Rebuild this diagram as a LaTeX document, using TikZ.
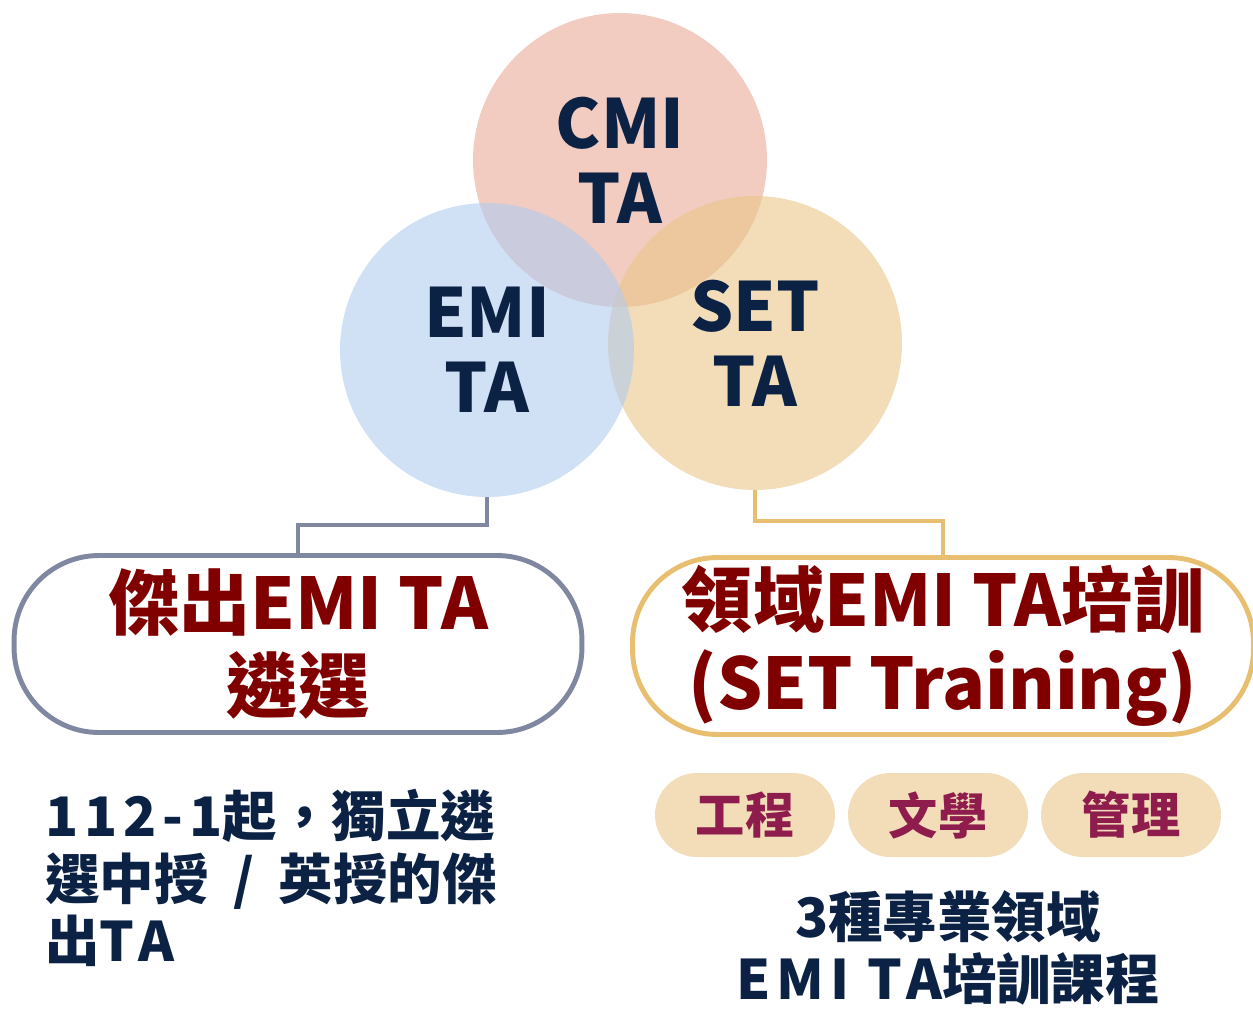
\documentclass[tikz,border=0pt]{standalone}
\usepackage{fontspec}
\setmainfont{Noto Sans CJK TC}
\usepackage{tikz}

\definecolor{navy}{HTML}{0C2244}
\definecolor{darkred}{HTML}{800000}
\definecolor{plum}{HTML}{8E1C4C}
\definecolor{pinkc}{HTML}{E9A898}
\definecolor{bluec}{HTML}{B1CBEE}
\definecolor{sandc}{HTML}{E9C689}
\definecolor{slate}{HTML}{7F88A0}
\definecolor{gold}{HTML}{E8BE70}
\definecolor{tagfill}{HTML}{F2DDB8}

\newcommand\spaced[1]{{\addfontfeature{LetterSpace=11}#1}}

\tikzset{
    venn/.style={circle, minimum size=5.88cm, inner sep=0pt, fill opacity=0.6},
    vlabel/.style={align=center, text=navy, inner sep=0pt,
        font=\fontsize{38.6}{42.5}\selectfont\bfseries},
    pill/.style={rounded corners=1.7cm, minimum height=3.54cm, line width=2.8pt,
        inner sep=0pt, align=center, text=darkred,
        font=\fontsize{40.5}{47.5}\selectfont\bfseries},
    conn/.style={line width=2.3pt},
    tag/.style={fill=tagfill, rounded corners=0.84cm, minimum width=3.6cm,
        minimum height=1.68cm, inner sep=0pt, text=plum,
        font=\fontsize{28}{32}\selectfont\bfseries},
    note/.style={text=navy, inner sep=0pt,
        font=\fontsize{31}{35.5}\selectfont\bfseries}
}

\begin{document}
\begin{tikzpicture}[x=0.02cm,y=-0.02cm]
    \useasboundingbox (0,0) rectangle (1253,1010);
    % circles
    \node[venn, fill=pinkc] (cmi) at (620,160) {};
    \node[venn, fill=sandc] (set) at (755,343) {};
    \node[venn, fill=bluec] (emi) at (487,350) {};
    \node[vlabel] (emitx) at (emi) {EMI\\TA};
    \node[vlabel] (settx) at (set) {SET\\TA};
    \node[vlabel] (cmitx) at (cmi) {CMI\\TA};
    % the two programmes
    \node[pill, draw=slate, minimum width=11.36cm] (best) at (298,644) {傑出EMI TA\\遴選};
    \node[pill, draw=gold, minimum width=12.42cm] (train) at (943,646) {領域EMI TA培訓\\(SET Training)};
    \draw[slate, conn] (emi.south) -- ++(0,28) -| (best.north);
    \draw[gold, conn] (set.south) -- ++(0,31) -| (train.north);
    % fields
    \foreach \name/\tx/\lbl in {eng/745/工程, lit/938/文學, mgmt/1131/管理}
    \node[tag] (\name) at (\tx,815) {\lbl};
    % notes
    \node[note, align=left, anchor=west] (rule) at (45,878)
        {\spaced{112-1}起，獨立遴\\選中授\hspace{0.45em}/\hspace{0.45em}英授的傑\\出\spaced{TA}};
    \node[note, align=center] (course) at (948,948)
        {3種專業領域\\\spaced{EMI TA}培訓課程};
\end{tikzpicture}
\end{document}
